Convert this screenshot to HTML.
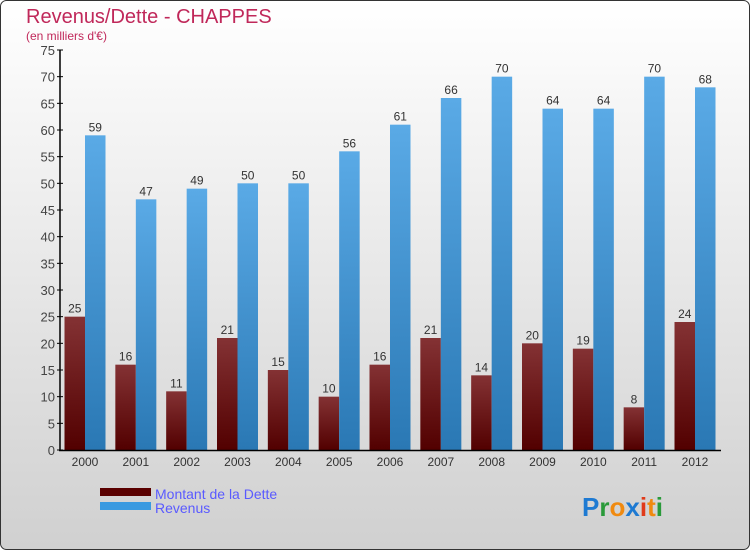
<!DOCTYPE html>
<html><head><meta charset="utf-8"><style>
body{margin:0;width:750px;height:550px;overflow:hidden;font-family:"Liberation Sans",sans-serif}
</style></head><body>
<svg width="750" height="550" xmlns="http://www.w3.org/2000/svg">
<defs>
<linearGradient id="bg" x1="0" y1="0" x2="0" y2="1"><stop offset="0" stop-color="#ffffff"/><stop offset="1" stop-color="#d0d0d0"/></linearGradient>
<linearGradient id="gd" x1="0" y1="0" x2="0" y2="1"><stop offset="0" stop-color="#843234"/><stop offset="1" stop-color="#520000"/></linearGradient>
<linearGradient id="gr" x1="0" y1="0" x2="0" y2="1"><stop offset="0" stop-color="#5aaae6"/><stop offset="1" stop-color="#2a78b4"/></linearGradient>
</defs>
<rect x="0.5" y="0.5" width="749" height="549" rx="6" fill="url(#bg)" stroke="#333"/>
<text x="26" y="23" font-size="20" fill="#c0285a">Revenus/Dette - CHAPPES</text>
<text x="26" y="40" font-size="12" fill="#c0285a">(en milliers d'€)</text>
<g id="plot"></g>
<rect x="100" y="488" width="51" height="8" fill="#5a0000"/>
<rect x="100" y="502" width="51" height="8" fill="#3a9ae0"/>
<text x="155" y="499" font-size="14" fill="#5a5aff">Montant de la Dette</text>
<text x="155" y="513" font-size="14" fill="#5a5aff">Revenus</text>
<text x="582" y="516" font-size="26" font-weight="bold"><tspan fill="#1e7ad2">P</tspan><tspan fill="#2a9a3a">r</tspan><tspan fill="#f08a10">o</tspan><tspan fill="#1e7ad2">x</tspan><tspan fill="#e03a1a">i</tspan><tspan fill="#f08a10">t</tspan><tspan fill="#2a9a3a">i</tspan></text>
</svg>
<script>
const years=["2000","2001","2002","2003","2004","2005","2006","2007","2008","2009","2010","2011","2012"];
const dette=[25,16,11,21,15,10,16,21,14,20,19,8,24];
const revenus=[59,47,49,50,50,56,61,66,70,64,64,70,68];
const yTicks=[0,5,10,15,20,25,30,35,40,45,50,55,60,65,70,75];
const NS="http://www.w3.org/2000/svg";
const g=document.getElementById('plot');
const y0=450,yTop=50,maxV=75;
const y=v=>y0-(y0-yTop)*v/maxV;
const step=(695-85)/(years.length-1);
const xc=i=>85+i*step;
const bw=20.5;
function el(t,a){const e=document.createElementNS(NS,t);for(const k in a)e.setAttribute(k,a[k]);g.appendChild(e);return e;}
yTicks.forEach(v=>{
 const l=el('line',{x1:57,x2:63,y1:y(v),y2:y(v),stroke:'#000'});
 
 
 const t=el('text',{x:55,y:y(v)+5,'text-anchor':'end','font-size':13,fill:'#444'});
 t.textContent=v;
 
 
});
years.forEach((yr,i)=>{
 const c=xc(i);
 const d=el('rect',{x:c-bw,y:y(dette[i]),width:bw,height:y0-y(dette[i]),fill:'url(#gd)'});
 
 
 const r=el('rect',{x:c,y:y(revenus[i]),width:bw,height:y0-y(revenus[i]),fill:'url(#gr)'});
 
 
 const dl=el('text',{x:c-bw/2,y:y(dette[i])-4,'text-anchor':'middle','font-size':12,fill:'#333'});
 dl.textContent=dette[i];
 
 
 const rl=el('text',{x:c+bw/2,y:y(revenus[i])-4,'text-anchor':'middle','font-size':12,fill:'#333'});
 rl.textContent=revenus[i];
 
 
 const xl=el('text',{x:c,y:466,'text-anchor':'middle','font-size':12,fill:'#333'});
 xl.textContent=yr;
 
 
});
const ya=el('line',{x1:60,x2:60,y1:50,y2:451,stroke:'#000','stroke-width':1.5});


const xa=el('line',{x1:59,x2:721,y1:450.5,y2:450.5,stroke:'#000','stroke-width':1.5});


</script>
</body></html>
